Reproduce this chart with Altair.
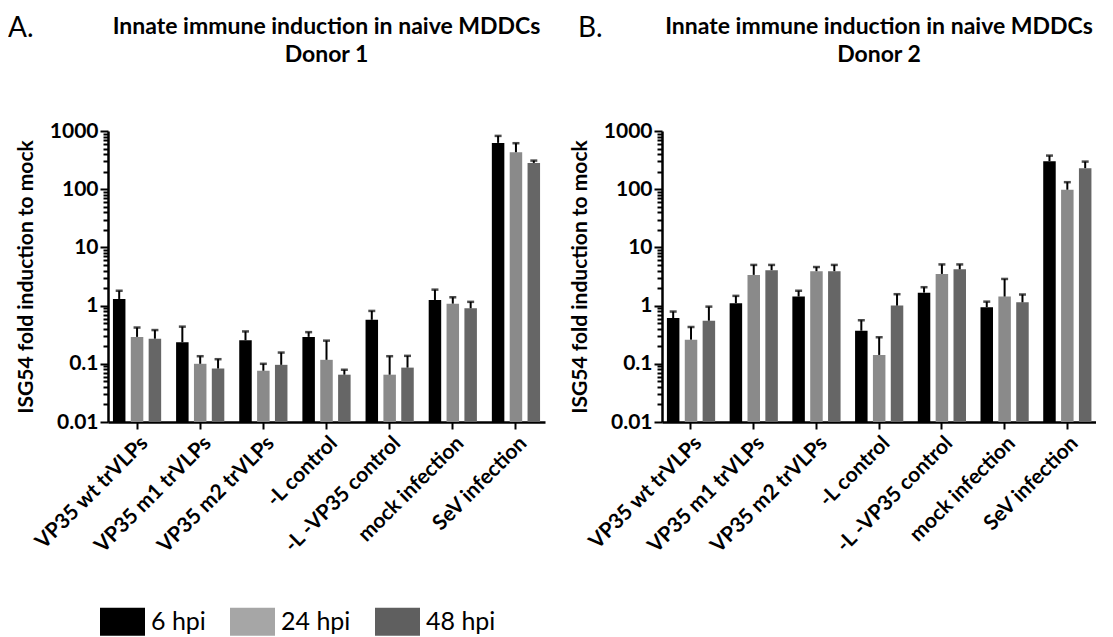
import altair as alt
import pandas as pd

groups = ["VP35 wt trVLPs", "VP35 m1 trVLPs", "VP35 m2 trVLPs", "-L control",
          "-L -VP35 control", "mock infection", "SeV infection"]
hpi_levels = ["6 hpi", "24 hpi", "48 hpi"]

# Donor 1 (means and upper error-bar tops)
d1_6 = [1.3, 0.235, 0.254, 0.29, 0.57, 1.25, 625]
d1_6_err = [1.8, 0.435, 0.36, 0.35, 0.81, 1.88, 824]
d1_24 = [0.29, 0.10, 0.076, 0.117, 0.065, 1.08, 432]
d1_24_err = [0.42, 0.135, 0.10, 0.25, 0.135, 1.39, 617]
d1_48 = [0.27, 0.083, 0.096, 0.065, 0.086, 0.90, 283]
d1_48_err = [0.38, 0.12, 0.156, 0.079, 0.137, 1.16, 310]

# Donor 2
d2_6 = [0.61, 1.1, 1.43, 0.37, 1.67, 0.94, 303]
d2_6_err = [0.79, 1.47, 1.8, 0.56, 2.07, 1.17, 378]
d2_24 = [0.26, 3.37, 3.9, 0.142, 3.5, 1.43, 98]
d2_24_err = [0.43, 5.0, 4.6, 0.286, 5.1, 2.87, 132]
d2_48 = [0.55, 4.06, 3.9, 1.0, 4.2, 1.14, 230]
d2_48_err = [0.96, 5.0, 5.0, 1.57, 5.1, 1.55, 298]

title_line1 = "Innate immune induction in naive MDDCs"
bar_colors = ["#000000", "#8a8a8a", "#666666"]
legend_colors = ["#000000", "#a6a6a6", "#5f5f5f"]
y_ticks = [m * 10 ** e for e in range(-2, 3) for m in range(1, 10)] + [1000]

FONT = "Lato"
YTITLE = "ISG54 fold induction to mock"


def make_df(v6, e6, v24, e24, v48, e48):
    rows = []
    for s, vals, errs in zip(hpi_levels, [v6, v24, v48], [e6, e24, e48]):
        for g, v, e in zip(groups, vals, errs):
            rows.append({"group": g, "hpi": s, "value": v, "err": e})
    return pd.DataFrame(rows)


yscale = alt.Scale(type="log", domain=[0.01, 1000], nice=False)
is_major = "abs(log(datum.value)/LN10 - round(log(datum.value)/LN10)) < 0.001"
yaxis = alt.Axis(
    values=y_ticks,
    labelExpr=f"({is_major}) ? format(datum.value, '~g') : ''",
    labelFont=FONT, labelFontSize=21, labelFontWeight="bold", labelColor="black",
    labelPadding=2,
    tickColor="black", tickWidth=2,
    tickSize={"condition": {"test": is_major, "value": 8}, "value": 5},
    domainColor="black", domainWidth=2.5, grid=False,
    title=YTITLE, titleFont=FONT, titleFontSize=21, titleFontWeight="bold",
    titleColor="black", titlePadding=13,
)
xaxis = alt.Axis(
    title=None, labelAngle=-45, labelFont=FONT, labelFontSize=21,
    labelFontWeight="bold", labelColor="black", labelPadding=3,
    tickColor="black", tickWidth=2, tickSize=7,
    domainColor="black", domainWidth=2.5,
)
xenc = alt.X("group:N", sort=groups, scale=alt.Scale(paddingInner=0.18, paddingOuter=0.05), axis=xaxis)
xoff = alt.XOffset("hpi:N", sort=hpi_levels, scale=alt.Scale(paddingInner=0.3, paddingOuter=0.1))


def panel(df, donor, letter, letter_dx, width, with_legend):
    base = alt.Chart(df).encode(x=xenc, xOffset=xoff)
    bars = base.mark_bar().encode(
        y=alt.Y("value:Q", scale=yscale, axis=yaxis, title=YTITLE),
        y2=alt.datum(0.01),
        fill=alt.Fill("hpi:N", sort=hpi_levels,
                      scale=alt.Scale(domain=hpi_levels, range=bar_colors), legend=None),
    )
    rules = base.mark_rule(color="black", strokeWidth=2).encode(
        y=alt.Y("value:Q", title=YTITLE), y2="err:Q")
    caps = base.mark_tick(color="black", thickness=2.5, size=7).encode(
        y=alt.Y("err:Q", title=YTITLE))
    txt = alt.Chart(pd.DataFrame({"letter": [letter], "t1": [title_line1], "t2": [donor]}))
    letter_txt = txt.mark_text(
        fontSize=28, font=FONT, align="left", baseline="top", color="black"
    ).encode(text="letter:N", x=alt.value(letter_dx), y=alt.value(-116))
    t1 = txt.mark_text(fontSize=23, font=FONT, fontWeight="bold", align="center",
                       baseline="middle", color="black").encode(
        text="t1:N", x=alt.value(width / 2), y=alt.value(-104))
    t2 = txt.mark_text(fontSize=23, font=FONT, fontWeight="bold", align="center",
                       baseline="middle", color="black").encode(
        text="t2:N", x=alt.value(width / 2), y=alt.value(-76))
    layers = [bars, rules, caps, letter_txt, t1, t2]
    if with_legend:
        leg = base.mark_point(filled=True, size=0, opacity=0, shape="square").encode(
            y=alt.Y("value:Q", title=YTITLE),
            color=alt.Color("hpi:N", sort=hpi_levels,
                            scale=alt.Scale(domain=hpi_levels, range=legend_colors),
                            legend=alt.Legend(
                                title=None, orient="none", direction="horizontal",
                                legendX=-8, legendY=468,
                                symbolType="M-1,-0.62H1V0.62H-1Z", symbolSize=2025,
                                symbolOpacity=1, symbolStrokeWidth=0,
                                labelFont=FONT, labelFontSize=25, labelColor="black",
                                labelOffset=6, columnPadding=24,
                            )),
        )
        layers.append(leg)
    return alt.layer(*layers).properties(width=width, height=291)


pA = panel(make_df(d1_6, d1_6_err, d1_24, d1_24_err, d1_48, d1_48_err), "Donor 1", "A.", -100, 437, True)
pB = panel(make_df(d2_6, d2_6_err, d2_24, d2_24_err, d2_48, d2_48_err), "Donor 2", "B.", -84, 434, False)

chart = alt.hconcat(pA, pB, spacing=24).resolve_scale(color="independent").properties(
    padding={"left": 0, "top": 7, "right": 0, "bottom": 0}, background="white"
).configure_view(stroke=None)

chart.save("out.html", embed_options={"renderer": "svg", "actions": False})
